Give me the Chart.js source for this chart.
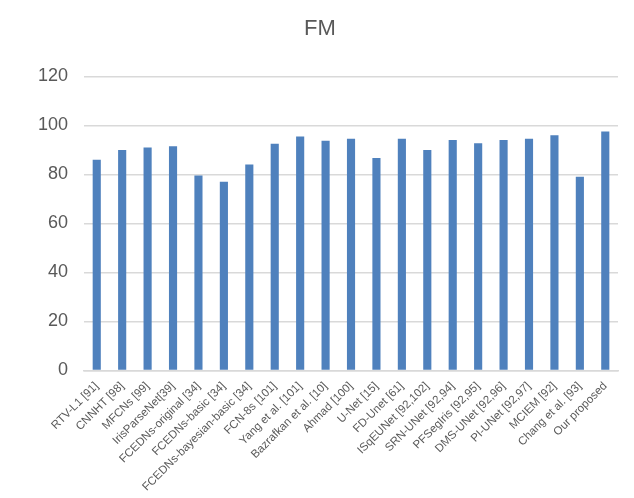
<!DOCTYPE html>
<html>
<head>
<meta charset="utf-8">
<script src="https://cdn.jsdelivr.net/npm/chart.js@4/dist/chart.umd.min.js"></script>
<style>
  html, body { margin: 0; padding: 0; background: #fff; }
  #wrap { width: 634px; height: 498px; position: relative; }
</style>
</head>
<body>
<div id="wrap"><canvas id="fm-chart"></canvas></div>
<script>
// Methods and their FM scores
const methods = [
    'RTV-L1 [91]', 'CNNHT [98]', 'MFCNs [99]', 'IrisParseNet[39]', 'FCEDNs-original [34]',
    'FCEDNs-basic [34]', 'FCEDNs-bayesian-basic [34]', 'FCN-8s [101]', 'Yang et al. [101]',
    'Bazrafkan et al. [10]', 'Ahmad [100]', 'U-Net [15]', 'FD-Unet [61]', 'ISqEUNet [92,102]',
    'SRN-UNet [92,94]', 'PFSegIris [92,95]', 'DMS-UNet [92,96]', 'PI-UNet [92,97]',
    'MCIEM [92]', 'Chang et al. [93]', 'Our proposed'
];
const fmValues = [86, 90, 91, 91.5, 79.5, 77, 84, 92.5, 95.5, 93.7, 94.5, 86.7, 94.6, 90, 94, 92.7, 94, 94.5, 96, 79, 97.5];
const yTicks = [0, 20, 40, 60, 80, 100, 120];

const ctx = document.getElementById('fm-chart').getContext('2d');
const fmChart = new Chart(ctx, {
    type: 'bar',
    data: {
        labels: methods,
        datasets: [{
            label: 'FM',
            data: fmValues,
            backgroundColor: '#4f81bd',
            categoryPercentage: 1,
            barPercentage: 0.32
        }]
    },
    options: {
        responsive: true,
        maintainAspectRatio: false,
        animation: false,
        layout: {
            padding: { left: 22, right: 16, top: 8, bottom: 3 }
        },
        plugins: {
            legend: { display: false },
            tooltip: { enabled: false },
            title: {
                display: true,
                text: 'FM',
                color: '#595959',
                font: { family: 'Liberation Sans', size: 22, weight: 'normal' },
                padding: { top: 8, bottom: 34 }
            }
        },
        scales: {
            y: {
                min: 0,
                max: 120,
                afterBuildTicks: function(axis) {
                    axis.ticks = yTicks.map(v => ({ value: v }));
                },
                border: { display: false },
                grid: { color: '#d9d9d9', lineWidth: 1.5, drawTicks: false },
                ticks: {
                    color: '#595959',
                    padding: 16,
                    font: { family: 'Liberation Sans', size: 18 }
                }
            },
            x: {
                border: { display: true, color: '#d9d9d9', width: 1.5 },
                grid: { display: false },
                ticks: {
                    color: '#595959',
                    autoSkip: false,
                    maxRotation: 45,
                    minRotation: 45,
                    padding: 1,
                    font: { family: 'Liberation Sans', size: 11.5 }
                }
            }
        }
    }
});
</script>
</body>
</html>
